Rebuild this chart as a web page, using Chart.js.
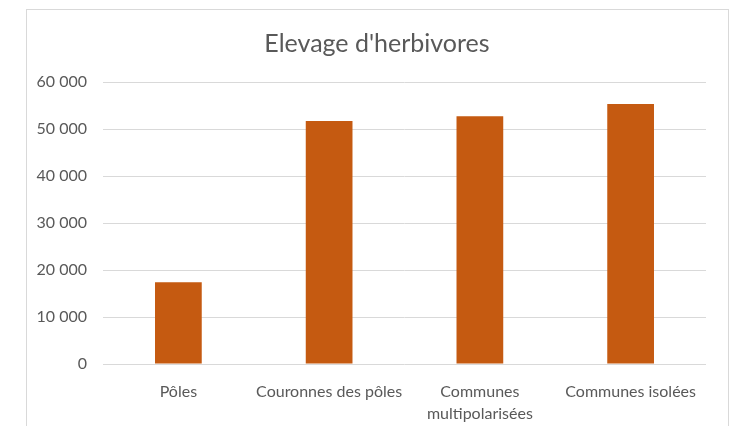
<!DOCTYPE html>
<html lang="fr">
<head>
<meta charset="utf-8">
<title>Elevage d'herbivores</title>
<script src="https://cdn.jsdelivr.net/npm/chart.js@4.4.1/dist/chart.umd.min.js"></script>
<style>
  body { margin: 0; background: #ffffff; }
  #wrap { position: relative; width: 735px; height: 426px; overflow: hidden; }
  #frame {
    position: absolute; left: 26px; top: 9px; width: 703px; height: 440px;
    box-sizing: border-box; border: 1px solid #d9d9d9; pointer-events: none;
  }
  #chart { position: absolute; left: 0; top: 0; }
</style>
</head>
<body>
<div id="wrap">
  <div id="frame"></div>
  <canvas id="chart" width="735" height="426"></canvas>
</div>
<script>
// Chart data
const chartTitle = "Elevage d'herbivores";
const categories = [
  "Pôles",
  "Couronnes des pôles",
  ["Communes", "multipolarisées"],
  "Communes isolées",
];
const herbivores = [17400, 51700, 52700, 55300];
const yTicks = [0, 10000, 20000, 30000, 40000, 50000, 60000];

const textColor = "#595959";
const gridColor = "#d9d9d9";
const barColor = "#c55a11";

// "60000" -> "60 000"
function formatNumber(v) {
  return String(v).replace(/\B(?=(\d{3})+(?!\d))/g, " ");
}

// Title centred on the frame (not on the plot area), like the Excel chart
const frameTitle = {
  id: "frameTitle",
  afterDraw: function (chart) {
    const ctx = chart.ctx;
    ctx.save();
    ctx.font = "normal 25px Lato";
    ctx.fillStyle = textColor;
    ctx.textAlign = "center";
    ctx.textBaseline = "middle";
    ctx.fillText(chartTitle, 377, 44);
    ctx.restore();
  },
};

document.addEventListener("DOMContentLoaded", function () {
  const ctx = document.getElementById("chart");

  new Chart(ctx, {
    type: "bar",
    data: {
      labels: categories,
      datasets: [
        {
          label: chartTitle,
          data: herbivores,
          backgroundColor: barColor,
          borderWidth: 0,
          barPercentage: 0.31,
          categoryPercentage: 1,
        },
      ],
    },
    plugins: [frameTitle],
    options: {
      responsive: false,
      animation: false,
      layout: {
        padding: { left: 0, right: 29, top: 82, bottom: 0 },
      },
      plugins: {
        legend: { display: false },
        tooltip: { enabled: false },
        title: { display: false },
      },
      scales: {
        x: {
          grid: { display: false },
          border: { display: false },
          ticks: {
            color: textColor,
            font: { family: "Lato", size: 16, lineHeight: 1.375 },
            padding: 9,
            maxRotation: 0,
            autoSkip: false,
          },
          afterFit: function (scale) {
            scale.height = 62;
          },
        },
        y: {
          min: yTicks[0],
          max: yTicks[yTicks.length - 1],
          afterBuildTicks: function (scale) {
            scale.ticks = yTicks.map(function (v) {
              return { value: v };
            });
          },
          grid: { color: gridColor, lineWidth: 1, drawTicks: false },
          border: { display: false },
          ticks: {
            color: textColor,
            font: { family: "Lato", size: 16 },
            padding: 16,
            callback: function (value) {
              return formatNumber(value);
            },
          },
          afterFit: function (scale) {
            scale.width = 103;
          },
        },
      },
    },
  });
});
</script>
</body>
</html>
